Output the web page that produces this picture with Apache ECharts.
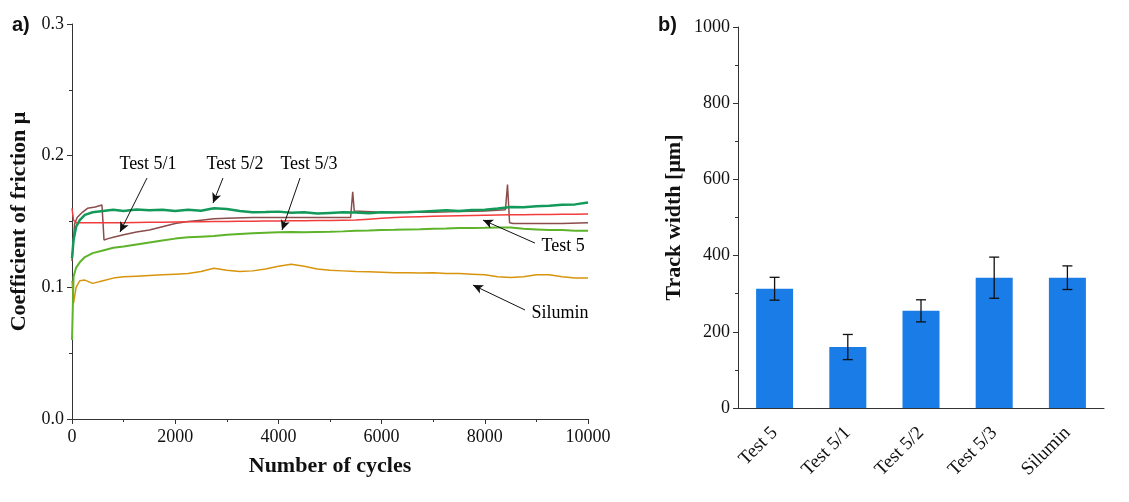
<!DOCTYPE html>
<html>
<head>
<meta charset="utf-8">
<script src="https://cdn.jsdelivr.net/npm/echarts@6/dist/echarts.min.js"></script>
<style>
  html, body { margin: 0; padding: 0; background: #fff; }
  #chart { width: 1129px; height: 502px; }
</style>
</head>
<body>
<div id="chart"></div>
<script>
// a) coefficient of friction vs number of cycles
const cycles = [0, 30, 80, 150, 250, 400, 600, 800, 1000, 1250, 1500, 1750, 2000, 2250, 2500, 2750, 3000, 3250, 3500, 3750, 4000, 4250, 4500, 4750, 5000, 5250, 5500, 5750, 6000, 6250, 6500, 6750, 7000, 7250, 7500, 7750, 8000, 8250, 8500, 8750, 9000, 9250, 9500, 9750, 10000];
const test5 = [0.160, 0.151, 0.149, 0.149, 0.149, 0.149, 0.149, 0.149, 0.149, 0.1492, 0.1494, 0.1495, 0.1497, 0.1498, 0.1499, 0.150, 0.150, 0.1501, 0.1502, 0.1503, 0.1504, 0.1505, 0.1506, 0.1507, 0.1508, 0.151, 0.1512, 0.1518, 0.1524, 0.153, 0.1534, 0.1537, 0.154, 0.1542, 0.1544, 0.1546, 0.1548, 0.155, 0.1551, 0.1552, 0.1553, 0.1554, 0.1555, 0.1556, 0.1557];
const test52 = [0.122, 0.136, 0.146, 0.151, 0.155, 0.157, 0.158, 0.159, 0.158, 0.1592, 0.1585, 0.159, 0.158, 0.159, 0.1582, 0.160, 0.1595, 0.158, 0.157, 0.1572, 0.1575, 0.1566, 0.157, 0.156, 0.1565, 0.157, 0.1568, 0.1563, 0.157, 0.1568, 0.157, 0.1575, 0.158, 0.1585, 0.158, 0.1587, 0.159, 0.1598, 0.161, 0.1608, 0.1615, 0.162, 0.1628, 0.163, 0.1645];
const test53 = [0.060, 0.108, 0.115, 0.119, 0.123, 0.126, 0.128, 0.130, 0.131, 0.1325, 0.134, 0.1355, 0.137, 0.138, 0.1385, 0.139, 0.140, 0.1405, 0.141, 0.1415, 0.1418, 0.142, 0.1418, 0.142, 0.1422, 0.1425, 0.143, 0.1432, 0.1435, 0.1437, 0.144, 0.1442, 0.1445, 0.1447, 0.145, 0.145, 0.1452, 0.1455, 0.1455, 0.1445, 0.144, 0.1435, 0.1435, 0.143, 0.143];
const silumin = [0.105, 0.088, 0.100, 0.105, 0.1055, 0.103, 0.105, 0.107, 0.108, 0.1085, 0.109, 0.1095, 0.110, 0.1105, 0.112, 0.1145, 0.113, 0.112, 0.1125, 0.114, 0.116, 0.1175, 0.116, 0.114, 0.113, 0.1125, 0.112, 0.1118, 0.1115, 0.111, 0.111, 0.1108, 0.111, 0.1105, 0.1105, 0.110, 0.1095, 0.108, 0.1075, 0.108, 0.1095, 0.1095, 0.108, 0.107, 0.107];
// Test 5/1 has its own sampling because of the jumps
const cycles51 = [0, 50, 100, 200, 300, 450, 580, 600, 620, 700, 800, 1000, 1250, 1500, 1750, 2000, 2250, 2500, 2750, 3000, 3500, 4000, 4500, 5000, 5400, 5440, 5470, 6000, 6500, 7000, 7500, 8000, 8400, 8440, 8480, 8550, 9000, 9500, 10000];
const test51 = [0.120, 0.148, 0.153, 0.157, 0.160, 0.161, 0.1625, 0.150, 0.136, 0.137, 0.138, 0.140, 0.142, 0.1435, 0.146, 0.1485, 0.150, 0.151, 0.152, 0.1525, 0.153, 0.153, 0.153, 0.153, 0.153, 0.1726, 0.158, 0.157, 0.157, 0.157, 0.1575, 0.158, 0.159, 0.178, 0.149, 0.1485, 0.1485, 0.1485, 0.149];

const annoText = ['Test 5/1', 'Test 5/2', 'Test 5/3', 'Test 5', 'Silumin'];
const annoAt = [[1473, 0.1936], [3159, 0.1936], [4593, 0.1936], [9516, 0.1314], [9457, 0.0805]];
const arrowFrom = [[1453, 0.183], [2926, 0.183], [4419, 0.183], [8973, 0.1336], [8779, 0.0828]];
const arrowTo = [[930, 0.142], [2733, 0.164], [4070, 0.1435], [7965, 0.1511], [7771, 0.1017]];

// b) track width
const samples = ['Test 5', 'Test 5/1', 'Test 5/2', 'Test 5/3', 'Silumin'];
const widthMean = [313, 160, 255, 342, 342];
const widthErr = [30, 33, 29, 54, 31];

const serif = 'Liberation Serif';
const pair = (xs, ys) => xs.map((x, i) => [x, ys[i]]);

const myChart = echarts.init(document.getElementById('chart'));

const axisBase = {
  axisLine: { show: true, lineStyle: { color: '#333', width: 1 } },
  axisTick: { show: true, inside: false, length: 5, lineStyle: { color: '#333' } },
  minorTick: { show: true, splitNumber: 2, length: 3, lineStyle: { color: '#333' } },
  splitLine: { show: false },
  axisLabel: { color: '#111', fontFamily: serif, fontSize: 18, formatter: v => String(v) },
  nameTextStyle: { color: '#111', fontFamily: serif, fontSize: 22, fontWeight: 'bold' }
};

const option = {
  animation: false,
  backgroundColor: '#fff',
  graphic: [
    { type: 'text', left: 12, top: 15, style: { text: 'a)', font: 'bold 20px Liberation Sans', fill: '#111' } },
    { type: 'text', left: 658, top: 15, style: { text: 'b)', font: 'bold 20px Liberation Sans', fill: '#111' } }
  ],
  grid: [
    { left: 72, right: 541, top: 24, bottom: 83 },
    { left: 738, right: 25, top: 27, bottom: 94 }
  ],
  xAxis: [
    Object.assign({}, axisBase, {
      gridIndex: 0, type: 'value', min: 0, max: 10000, interval: 2000,
      name: 'Number of cycles', nameLocation: 'middle', nameGap: 36,
      axisLabel: Object.assign({}, axisBase.axisLabel, { margin: 9 })
    }),
    {
      gridIndex: 1, type: 'category', data: samples,
      axisLine: { show: true, lineStyle: { color: '#333' } },
      axisTick: { show: false },
      axisLabel: { color: '#111', fontFamily: serif, fontSize: 19, rotate: 45, margin: 22, interval: 0 }
    }
  ],
  yAxis: [
    Object.assign({}, axisBase, {
      gridIndex: 0, type: 'value', min: 0, max: 0.3, interval: 0.1,
      name: 'Coefficient of friction μ', nameLocation: 'middle', nameGap: 42,
      axisLabel: Object.assign({}, axisBase.axisLabel, { formatter: v => v.toFixed(1), margin: 8 })
    }),
    Object.assign({}, axisBase, {
      gridIndex: 1, type: 'value', min: 0, max: 1000, interval: 200,
      name: 'Track width [μm]', nameLocation: 'middle', nameGap: 53,
      axisLabel: Object.assign({}, axisBase.axisLabel, { margin: 8 })
    })
  ],
  series: [
    {
      name: 'Test 5/1', type: 'line', xAxisIndex: 0, yAxisIndex: 0, showSymbol: false,
      data: pair(cycles51, test51), lineStyle: { color: '#8b4c4c', width: 1.5 }, itemStyle: { color: '#8b4c4c' }
    },
    {
      name: 'Test 5', type: 'line', xAxisIndex: 0, yAxisIndex: 0, showSymbol: false,
      data: pair(cycles, test5), lineStyle: { color: '#f23c3c', width: 1.5 }, itemStyle: { color: '#f23c3c' }
    },
    {
      name: 'Silumin', type: 'line', xAxisIndex: 0, yAxisIndex: 0, showSymbol: false,
      data: pair(cycles, silumin), lineStyle: { color: '#d8940c', width: 1.5 }, itemStyle: { color: '#d8940c' }
    },
    {
      name: 'Test 5/3', type: 'line', xAxisIndex: 0, yAxisIndex: 0, showSymbol: false,
      data: pair(cycles, test53), lineStyle: { color: '#5db32a', width: 2 }, itemStyle: { color: '#5db32a' }
    },
    {
      name: 'Test 5/2', type: 'line', xAxisIndex: 0, yAxisIndex: 0, showSymbol: false,
      data: pair(cycles, test52), lineStyle: { color: '#139a5a', width: 2.5 }, itemStyle: { color: '#139a5a' },
      markLine: {
        silent: true, symbol: ['none', 'arrow'], symbolSize: [7, 10],
        lineStyle: { color: '#111', width: 1, type: 'solid' }, label: { show: false },
        data: arrowFrom.map((f, i) => [{ coord: f }, { coord: arrowTo[i] }])
      }
    },
    {
      name: 'labels', type: 'scatter', xAxisIndex: 0, yAxisIndex: 0, symbolSize: 0, silent: true,
      itemStyle: { color: '#111', opacity: 1 },
      data: annoAt.map((p, i) => [p[0], p[1], annoText[i]]),
      label: {
        show: true, position: [0, 0], align: 'center', verticalAlign: 'middle', opacity: 1,
        formatter: p => p.value[2], color: '#000', fontFamily: serif, fontSize: 18
      }
    },
    {
      name: 'Track width', type: 'bar', xAxisIndex: 1, yAxisIndex: 1, data: widthMean,
      barWidth: 37, itemStyle: { color: '#1a7ce6' }
    },
    {
      name: 'error', type: 'custom', xAxisIndex: 1, yAxisIndex: 1,
      data: widthMean.map((m, i) => [i, m - widthErr[i], m + widthErr[i]]),
      renderItem: (params, api) => {
        const lo = api.coord([api.value(0), api.value(1)]);
        const hi = api.coord([api.value(0), api.value(2)]);
        const half = 5;
        const style = { stroke: '#111', lineWidth: 1.3 };
        return {
          type: 'group',
          children: [
            { type: 'line', shape: { x1: lo[0], y1: lo[1], x2: hi[0], y2: hi[1] }, style },
            { type: 'line', shape: { x1: lo[0] - half, y1: lo[1], x2: lo[0] + half, y2: lo[1] }, style },
            { type: 'line', shape: { x1: hi[0] - half, y1: hi[1], x2: hi[0] + half, y2: hi[1] }, style }
          ]
        };
      },
      z: 5
    }
  ]
};

myChart.setOption(option);
</script>
</body>
</html>
